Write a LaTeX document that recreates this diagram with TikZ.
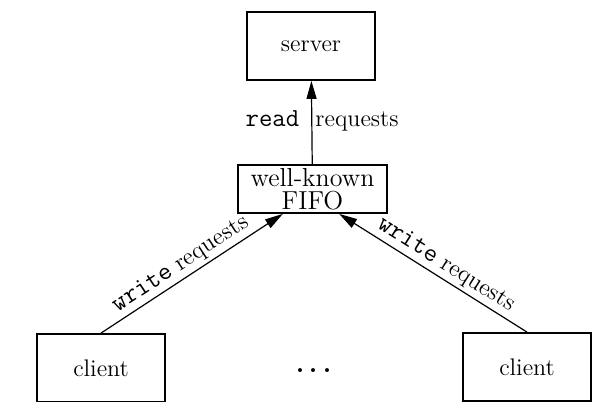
\documentclass[tikz,border=0pt]{standalone}
\usepackage{tikz}
\usetikzlibrary{arrows.meta}

\begin{document}
\begin{tikzpicture}[
        x=0.5pt, y=-0.5pt,
        every node/.append style={font=\fontsize{12}{12}\selectfont}
    ]
    \tikzstyle{box}=[draw,line width=0.9pt,inner sep=0pt,align=center];
    \tikzstyle{req}=[-{Triangle[length=9pt,width=5pt]},line width=0.6pt];
    \newcommand{\call}[1]{{\fontsize{13}{13}\selectfont\texttt{#1}}}
    \useasboundingbox (0,0) rectangle (604,401);
    \clip (0,0) rectangle (604,401);
    % server and fifo
    \node[box,minimum width=64pt,minimum height=34pt] (server) at (311,46) {server};
    \node[box,minimum width=74.5pt,minimum height=24pt,font=\fontsize{13}{11.5}\selectfont] (fifo) at (312.5,189) {well-known\\FIFO};
    % clients
    \node[box,minimum width=64pt,minimum height=34pt] (cl1) at (101,368) {client};
    \node[box,minimum width=64pt,minimum height=34pt] (cl2) at (527,367) {client};
    \node[inner sep=0pt,font=\fontsize{24}{24}\selectfont] (dots) at (314,371) {.\hspace{0.8pt}.\hspace{0.8pt}.};
    % requests
    \draw[req] (fifo) -- (server)
        node[pos=0.45,anchor=base east,inner sep=6pt] {\call{read}}
        node[pos=0.45,anchor=base west,inner sep=1.5pt] {requests};
    \draw[req] (cl1.north) -- (fifo.220) node[pos=0.48,sloped,above,inner sep=1.5pt] {\call{write} requests};
    \draw[req] (cl2.north) -- (fifo.317) node[pos=0.47,sloped,above,inner sep=1.5pt] {\call{write} requests};
\end{tikzpicture}
\end{document}
